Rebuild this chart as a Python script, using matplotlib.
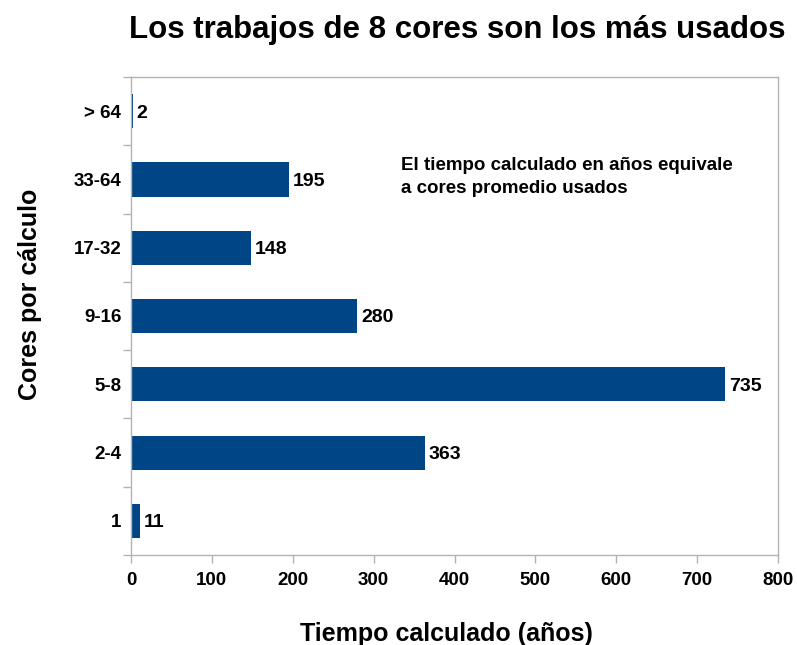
import matplotlib
matplotlib.use("Agg")
import matplotlib.pyplot as plt
import numpy as np

plt.rcParams['font.family'] = ['Liberation Sans', 'DejaVu Sans']
plt.rcParams['font.weight'] = 'bold'

categories = ["1", "2-4", "5-8", "9-16", "17-32", "33-64", "> 64"]
years = [11, 363, 735, 280, 148, 195, 2]

bar_color = "#004586"
grid_gray = "#b3b3b3"

fig = plt.figure(figsize=(7.97, 6.45), dpi=100)
ax = fig.add_axes([131/797, 1-555/645, (778-131)/797, (555-77)/645])

pos = np.arange(len(categories))
ax.barh(pos, years, height=0.5, color=bar_color)

for p, v in zip(pos, years):
    ax.text(v + 5, p, str(v), va='center_baseline', ha='left', fontsize=14, fontweight='bold')

ax.set_xlim(0, 800)
ax.set_ylim(-0.5, len(categories) - 0.5)
ax.set_xticks(np.arange(0, 801, 100))
ax.set_yticks(pos)
ax.set_yticklabels(categories)
ax.set_yticks(np.arange(-0.5, len(categories), 1), minor=True)

ax.tick_params(axis='y', which='major', length=0, pad=7, labelsize=13.5)
ax.tick_params(axis='y', which='minor', length=6, color=grid_gray, width=1)
ax.tick_params(axis='x', length=6, color=grid_gray, width=1, labelsize=13.5, pad=6)
for lab in ax.get_xticklabels() + ax.get_yticklabels():
    lab.set_fontweight('bold')

for s in ax.spines.values():
    s.set_color(grid_gray)
    s.set_linewidth(1)

ax.text(0.418, 0.832, "El tiempo calculado en años equivale\na cores promedio usados",
        transform=ax.transAxes, ha='left', va='top', fontsize=13.5,
        fontweight='bold', linespacing=1.45)

ax.set_xlabel("Tiempo calculado (años)", fontsize=18, fontweight='bold', labelpad=24)
ax.set_ylabel("Cores por cálculo", fontsize=18, fontweight='bold', labelpad=23)
ax.xaxis.label.set_x(0.487)
ax.yaxis.label.set_y(0.546)
fig.suptitle("Los trabajos de 8 cores son los más usados", fontsize=22.5,
             fontweight='bold', x=0.574, y=0.977)

fig.savefig("out.png", dpi=100)
